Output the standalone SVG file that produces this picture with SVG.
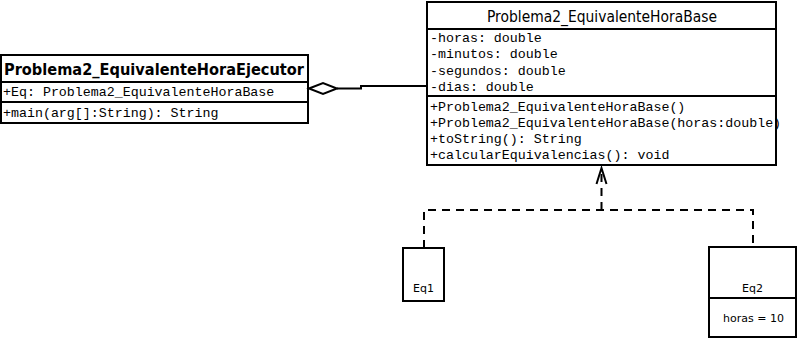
<svg xmlns="http://www.w3.org/2000/svg" width="797" height="338" viewBox="0 0 797 338">
  <style>
    .box { fill: #fff; stroke: #000; stroke-width: 2; }
    .sep { stroke: #000; stroke-width: 2; fill: none; }
    .mono { font-family: "Liberation Mono", "Courier New", monospace; font-size: 13.3px; fill: #000; }
    .title { font-family: "DejaVu Sans", Tahoma, sans-serif; font-size: 15px; fill: #000; }
    .small { font-family: "DejaVu Sans", Tahoma, sans-serif; font-size: 11px; fill: #000; }
    .link { stroke: #000; stroke-width: 2; fill: none; }
    .dash { stroke-dasharray: 8 6; }
  </style>

  <!-- executor class -->
  <g id="ejecutor">
    <rect class="box" x="1" y="55" width="307" height="68"/>
    <line class="sep" x1="1" y1="82" x2="308" y2="82"/>
    <line class="sep" x1="1" y1="102" x2="308" y2="102"/>
    <text class="title" x="4" y="75" font-weight="bold" font-size="16" textLength="300" lengthAdjust="spacingAndGlyphs">Problema2_EquivalenteHoraEjecutor</text>
    <text class="mono" x="3" y="96">+Eq: Problema2_EquivalenteHoraBase</text>
    <text class="mono" x="3" y="117">+main(arg[]:String): String</text>
  </g>

  <!-- base class -->
  <g id="base">
    <rect class="box" x="427" y="2" width="349" height="163"/>
    <line class="sep" x1="427" y1="29" x2="776" y2="29"/>
    <line class="sep" x1="427" y1="96" x2="776" y2="96"/>
    <text class="title" x="602" y="22" text-anchor="middle" textLength="230" lengthAdjust="spacingAndGlyphs">Problema2_EquivalenteHoraBase</text>
    <text class="mono" x="430" y="42">-horas: double</text>
    <text class="mono" x="430" y="58">-minutos: double</text>
    <text class="mono" x="430" y="75">-segundos: double</text>
    <text class="mono" x="430" y="91">-dias: double</text>
    <text class="mono" x="430" y="111">+Problema2_EquivalenteHoraBase()</text>
    <text class="mono" x="430" y="127">+Problema2_EquivalenteHoraBase(horas:double)</text>
    <text class="mono" x="430" y="143">+toString(): String</text>
    <text class="mono" x="430" y="159">+calcularEquivalencias(): void</text>
  </g>

  <!-- object Eq1 -->
  <g id="eq1">
    <rect class="box" x="403" y="248" width="41" height="53"/>
    <text class="small" x="423.5" y="292" text-anchor="middle">Eq1</text>
  </g>

  <!-- object Eq2 -->
  <g id="eq2">
    <rect class="box" x="709" y="247" width="87" height="90"/>
    <line class="sep" x1="709" y1="298" x2="796" y2="298"/>
    <text class="small" x="752.5" y="292" text-anchor="middle">Eq2</text>
    <text class="small" x="723" y="322">horas = 10</text>
  </g>

  <!-- connectors -->
  <g id="connectors">
    <!-- aggregation -->
    <polygon points="309,88.5 323,83 337,88.5 323,94" fill="#fff" stroke="#000" stroke-width="2"/>
    <polyline class="link" points="337,88.5 361,88.5 361,86 427,86"/>
    <!-- instance-of dependencies -->
    <polyline class="link dash" points="424,248 424,210 753,210 753,247"/>
    <line class="link dash" x1="601.5" y1="210" x2="601.5" y2="170"/>
    <polyline class="link" points="596.5,184 601.5,168 606.5,184"/>
  </g>
</svg>
